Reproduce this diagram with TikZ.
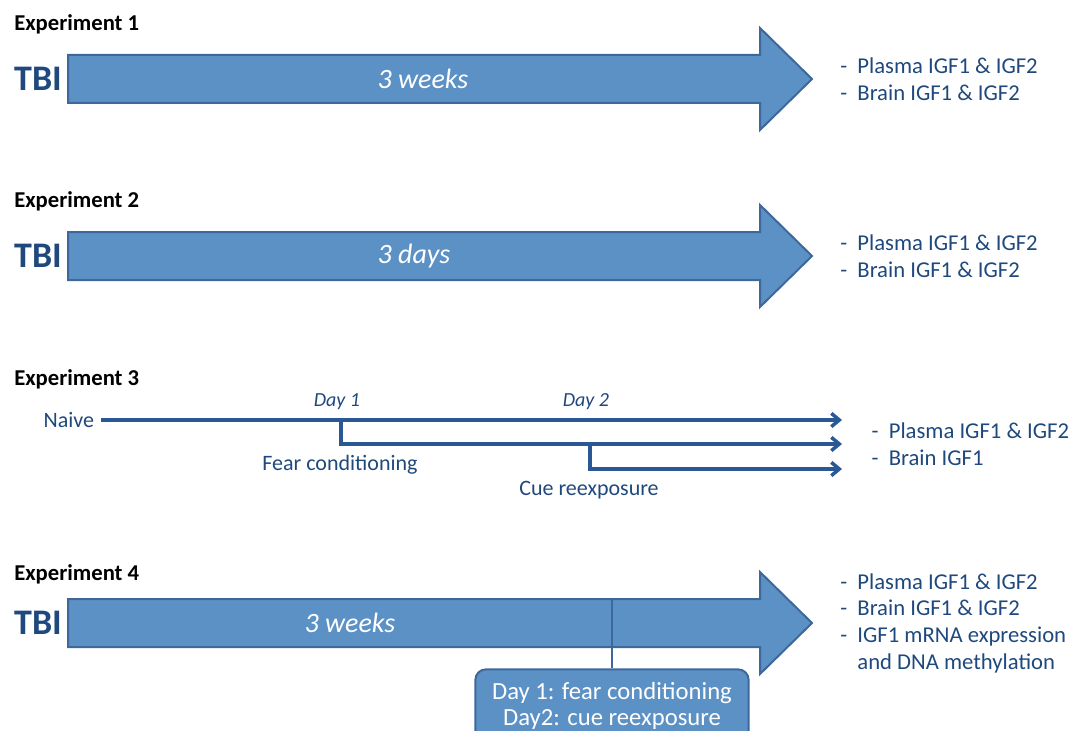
\documentclass[tikz,border=0pt]{standalone}
\usepackage{fontspec}
\setmainfont{Carlito}
\usepackage{tikz}
\usetikzlibrary{arrows.meta,positioning,calc}

\definecolor{arrowfill}{RGB}{92,145,198}
\definecolor{arrowedge}{RGB}{62,104,156}
\definecolor{darkblue}{RGB}{31,73,125}
\definecolor{flowblue}{RGB}{41,88,148}

\begin{document}
\begin{tikzpicture}[
    x=0.75pt, y=-0.75pt,
    >={Straight Barb[length=6pt,width=10pt]},
    bigarrow/.style={fill=arrowfill, draw=arrowedge, line width=1.5pt},
    explabel/.style={font=\bfseries\fontsize{17}{20}\selectfont, anchor=west,
      inner sep=0pt},
    tbi/.style={font=\bfseries\fontsize{27}{30}\selectfont, text=darkblue,
      inner sep=0pt},
    period/.style={font=\itshape\fontsize{21}{24}\selectfont, text=white},
    results/.style={font=\fontsize{17}{20}\selectfont, text=darkblue,
      align=left, anchor=west, inner sep=0pt},
    flow/.style={draw=flowblue, line width=2.6pt},
    tag/.style={font=\fontsize{16.5}{19}\selectfont, text=darkblue},
    day/.style={font=\itshape\fontsize{15}{18}\selectfont, text=darkblue},
    daybox/.style={fill=arrowfill, draw=arrowedge, line width=1.5pt,
      rounded corners=8pt, text=white, align=center,
      font=\fontsize{18.5}{19.5}\selectfont,
      minimum width=205pt, minimum height=55pt},
  ]
  \useasboundingbox (0,0) rectangle (1070,731);
  \clip (0,0) rectangle (1070,731);

  % Block arrows of experiments 1, 2 and 4
  \foreach \y/\nm in {79/one, 256/two, 623/four} {
    \draw[bigarrow] (68,\y-24) -- (760,\y-24) -- (760,\y-51) -- (812,\y)
      -- (760,\y+51) -- (760,\y+24) -- (68,\y+24) -- cycle;
    \coordinate (tip\nm) at (812,\y);
    \node[tbi] (tbi\nm) at (38,\y) {TBI};
  }

  % Experiment 1
  \node[explabel] (exp1) at (14,24) {Experiment 1};
  \node[period] (weeks1) at (423,79) {3 weeks};
  \node[results, right=21pt of tipone] (res1)
    {-~~Plasma IGF1 \& IGF2\\-~~Brain IGF1 \& IGF2};

  % Experiment 2
  \node[explabel] (exp2) at (14,201) {Experiment 2};
  \node[period] (days2) at (414,256) {3 days};
  \node[results, right=21pt of tiptwo] (res2)
    {-~~Plasma IGF1 \& IGF2\\-~~Brain IGF1 \& IGF2};

  % Experiment 3
  \node[explabel] (exp3) at (14,379) {Experiment 3};
  \node[tag, anchor=east, inner xsep=5pt] (naive) at (101,420) {Naive};
  \coordinate (endA) at (842,420);
  \coordinate (endB) at (842,444);
  \coordinate (endC) at (842,469);
  \coordinate (fear) at (341,420);
  \coordinate (cue) at (590,444);
  \draw[flow, ->] (naive.east) -- (endA);
  \draw[flow, ->] (fear) |- (endB);
  \draw[flow, ->] (cue) |- (endC);
  \node[day] (day1) at (337,402) {Day 1};
  \node[day] (day2) at (586,402) {Day 2};
  \node[tag] (fearlbl) at (340,465) {Fear conditioning};
  \node[tag] (cuelbl) at (589,490) {Cue reexposure};
  \node[results, right=22pt of endB] (res3)
    {-~~Plasma IGF1 \& IGF2\\-~~Brain IGF1};

  % Experiment 4
  \node[explabel] (exp4) at (14,574) {Experiment 4};
  \node[period] (weeks4) at (350,623) {3 weeks};
  \node[daybox] (cond) at (612,706)
    {Day 1: fear conditioning\\Day2: cue reexposure};
  \coordinate (shafttop) at (612,599);
  \draw[arrowedge, line width=1.5pt] (cond.north) -- (shafttop);
  \node[results, right=21pt of tipfour] (res4)
    {-~~Plasma IGF1 \& IGF2\\-~~Brain IGF1 \& IGF2\\
     -~~IGF1 mRNA expression\\\phantom{-~~}and DNA methylation};
\end{tikzpicture}
\end{document}
